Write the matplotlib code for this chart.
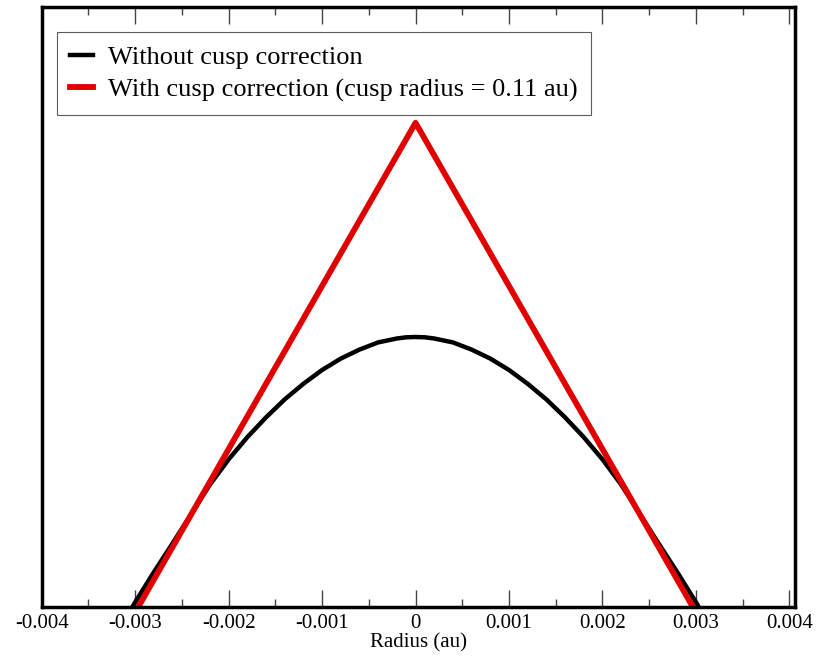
import numpy as np
import matplotlib
matplotlib.use("Agg")
import matplotlib.pyplot as plt
from matplotlib.ticker import MultipleLocator

# values (arbitrary y units, axis spans 0..1)
r_plain = [-0.0031, -0.00303, -0.0030, -0.0028, -0.0026, -0.0024, -0.0022, -0.0020,
           -0.0018, -0.0016, -0.0014, -0.0012, -0.0010, -0.0008, -0.0006, -0.0004,
           -0.0002, -0.0001, 0.0, 0.0001, 0.0002, 0.0004, 0.0006, 0.0008, 0.0010,
           0.0012, 0.0014, 0.0016, 0.0018, 0.0020, 0.0022, 0.0024, 0.0026, 0.0028,
           0.0030, 0.00303, 0.0031]
psi_plain = [-0.02, 0.0, 0.008, 0.058, 0.106, 0.155, 0.204, 0.246,
             0.283, 0.316, 0.346, 0.372, 0.395, 0.414, 0.429, 0.441,
             0.4475, 0.4495, 0.450, 0.4495, 0.4475, 0.441, 0.429, 0.414, 0.395,
             0.372, 0.346, 0.316, 0.283, 0.246, 0.204, 0.155, 0.106, 0.058,
             0.008, 0.0, -0.02]

r_cusp = [-0.0031, 0.0, 0.0031]
psi_cusp = [-0.036, 0.807, -0.036]

labels = ["Without cusp correction",
          "With cusp correction (cusp radius = 0.11 au)"]

plt.rcParams['font.family'] = ['Liberation Serif', 'DejaVu Serif']

fig = plt.figure(figsize=(8.24, 6.62), dpi=100)
ax = fig.add_axes([0.0506, 0.0831, 0.9142, 0.9063])

ax.plot(r_plain, psi_plain, color='black', lw=3.2, label=labels[0])
ax.plot(r_cusp, psi_cusp, color='#e00000', lw=4.2, label=labels[1])

ax.set_xlim(-0.004, 0.00406)
ax.set_ylim(0, 1)
ticks = np.arange(-0.004, 0.0041, 0.001)
ax.set_xticks(ticks)
ax.set_xticklabels(['%g' % round(t, 3) if abs(t) > 1e-9 else '0' for t in ticks], fontsize=15)
ax.xaxis.set_minor_locator(MultipleLocator(0.0005))
ax.set_yticks([])
ax.tick_params(axis='x', which='both', direction='in', top=True, bottom=True,
               color='#444444', width=1)
ax.tick_params(axis='x', which='major', length=12, pad=5)
ax.tick_params(axis='x', which='minor', length=6)
for s in ax.spines.values():
    s.set_linewidth(2.5)

ax.set_xlabel('Radius (au)', fontsize=15, labelpad=0)

leg = ax.legend(loc='upper left', bbox_to_anchor=(0.0203, 0.958), borderaxespad=0,
                fontsize=19, handlelength=0.87, handletextpad=0.57, frameon=True,
                fancybox=False, edgecolor='#333333', borderpad=0.5, labelspacing=0.35)
leg.get_frame().set_linewidth(0.8)

fig.savefig('out.png', dpi=100)
